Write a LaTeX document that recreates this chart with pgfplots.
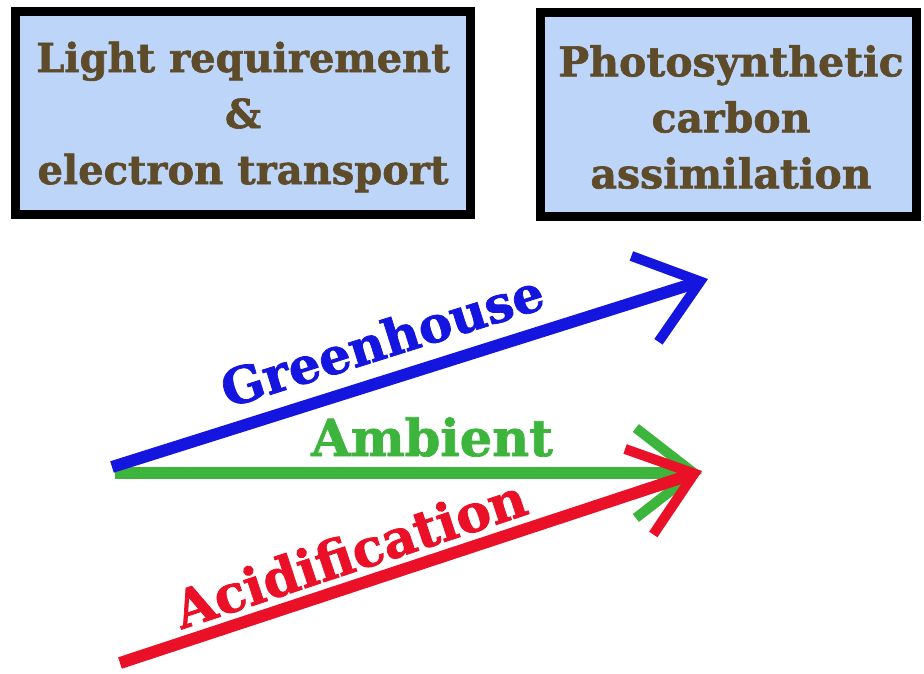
\documentclass[border=0pt]{standalone}
\usepackage{pgfplots}
\pgfplotsset{compat=1.18}
\usepackage{fontspec}
\setmainfont{DejaVu Serif}
\newfontfamily\heavy{DejaVu Serif Bold}[FakeBold=1.5]
\usetikzlibrary{arrows.meta}
\definecolor{boxfill}{HTML}{BDD5F8}
\definecolor{boxtext}{HTML}{5E4B2A}
\definecolor{cblue}{HTML}{1515E0}
\definecolor{cgreen}{HTML}{3DB53D}
\definecolor{cred}{HTML}{EA1028}
\begin{document}
\begin{tikzpicture}
\begin{axis}[
  hide axis, scale only axis,
  width=924pt, height=673pt,
  xmin=0, xmax=924, ymin=0, ymax=673,
  clip=false,
]
% invisible frame to fix the page size
\addplot[draw=none, forget plot] coordinates {(0,0) (924,673)};
% boxes
\draw[line width=9pt, fill=boxfill, draw=black] (axis cs:15,458) rectangle (axis cs:470,661);
\draw[line width=9pt, fill=boxfill, draw=black] (axis cs:540,456) rectangle (axis cs:916,660);
\node[text=boxtext, font=\heavy\fontsize{40}{56}\selectfont, align=center] at (axis cs:243,556)
  {Light requirement\\\&\\electron transport};
\node[text=boxtext, font=\heavy\fontsize{41}{56}\selectfont, align=center] at (axis cs:731,556)
  {Photosynthetic\\carbon\\assimilation};
% arrows
\addplot[cgreen, line width=12pt, -{Straight Barb[length=58pt, width=90pt, line width=10pt]}] coordinates {(115,200) (702,200)};
\addplot[cblue, line width=12pt, -{Straight Barb[length=58pt, width=90pt, line width=10pt]}] coordinates {(112,206) (708,394)};
\addplot[cred, line width=12pt, -{Straight Barb[length=58pt, width=90pt, line width=10pt]}] coordinates {(120,10) (702,202)};
% labels
\node[text=cblue, font=\heavy\fontsize{50}{60}\selectfont, rotate=17.5] at (axis cs:382,333) {Greenhouse};
\node[text=cgreen, font=\heavy\fontsize{51}{60}\selectfont] at (axis cs:432,236) {Ambient};
\node[text=cred, font=\heavy\fontsize{52}{60}\selectfont, rotate=18.4] at (axis cs:350,120) {Acidification};
\end{axis}
\end{tikzpicture}
\end{document}
